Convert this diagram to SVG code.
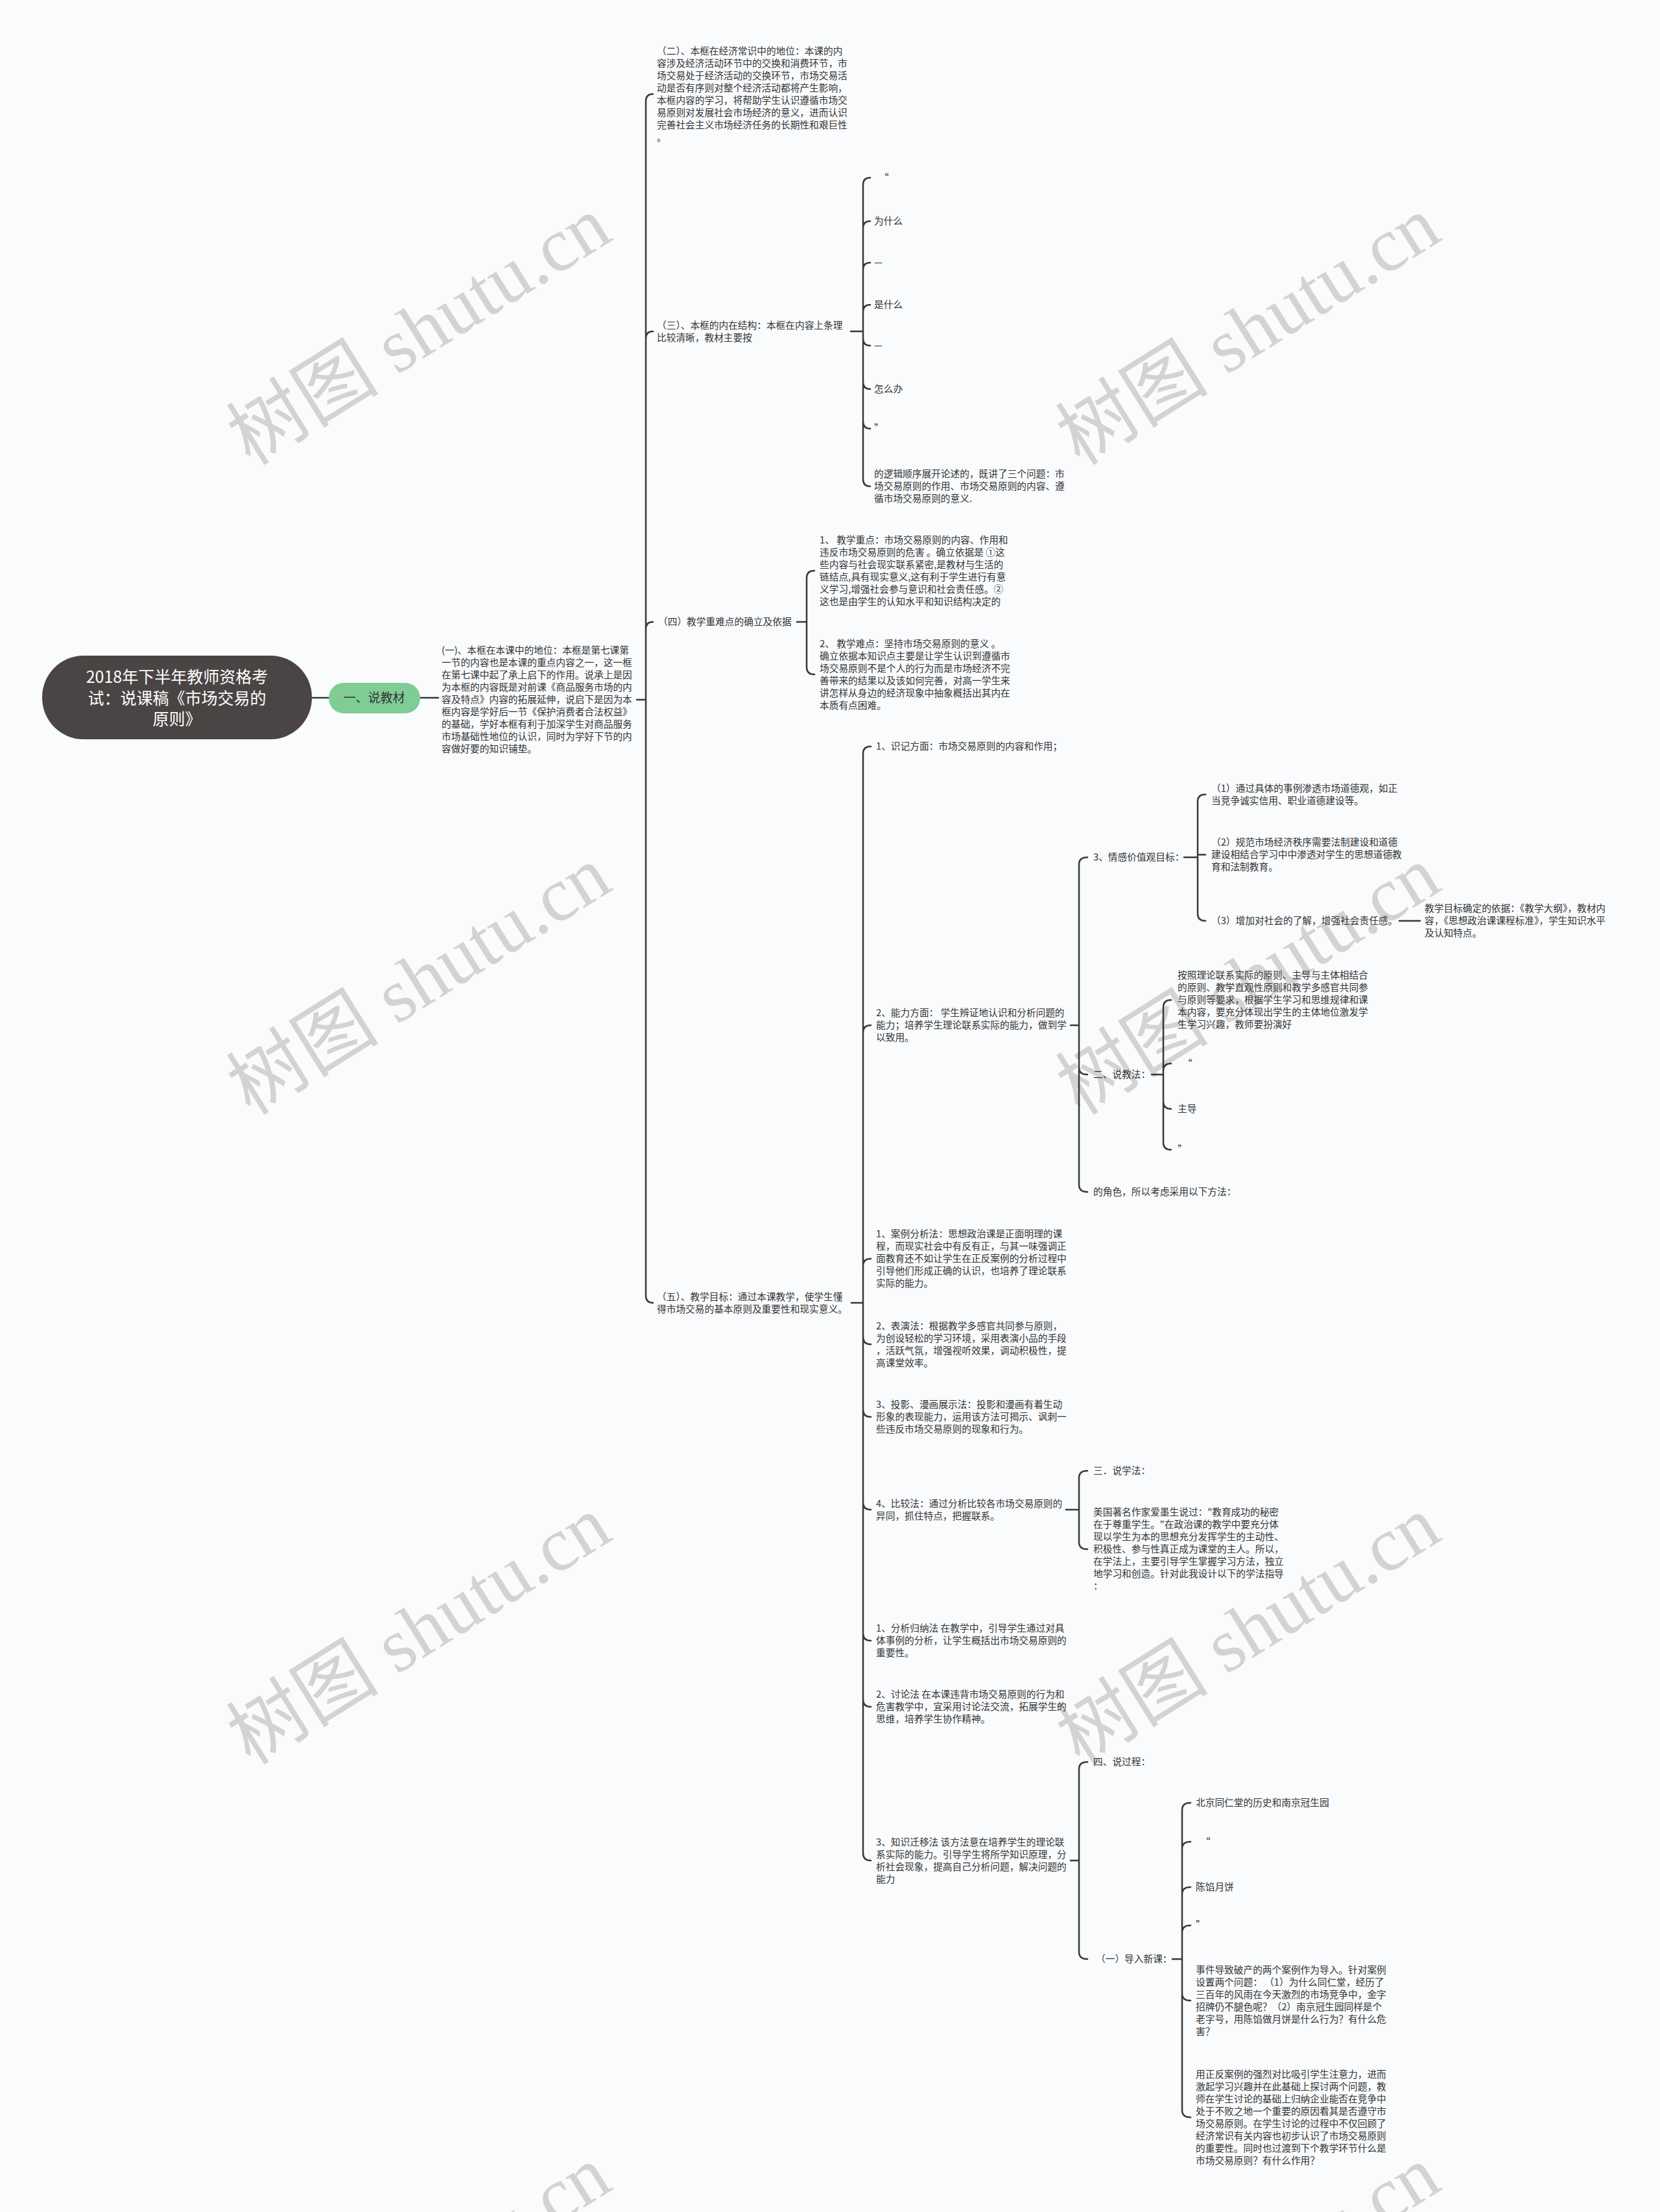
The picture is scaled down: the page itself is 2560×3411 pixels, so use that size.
<svg xmlns="http://www.w3.org/2000/svg" width="2560" height="3411" viewBox="0 0 2560 3411">
<style>
.bg{fill:#f9fbfd}
.wm{font-family:"Liberation Serif","Noto Sans CJK SC",serif;font-size:118px;fill:#d3d3d3;text-anchor:middle}
.t{font-family:"Noto Sans CJK SC","Noto Sans",sans-serif;font-size:14.7px;fill:#333}
.root{font-family:"Noto Sans CJK SC","Noto Sans",sans-serif;font-size:25px;fill:#ffffff;text-anchor:middle}
.l1{font-family:"Noto Sans CJK SC","Noto Sans",sans-serif;font-size:19px;fill:#333;text-anchor:middle}
.c{fill:none;stroke:#383838;stroke-width:2.5;stroke-linecap:round}
</style>
<rect class="bg" x="0" y="0" width="2560" height="3411"/>
<g id="watermarks">
<g transform="translate(646,510) rotate(-32)"><text class="wm" x="0" y="40">树图 shutu.cn</text></g>
<g transform="translate(1925,510) rotate(-32)"><text class="wm" x="0" y="40">树图 shutu.cn</text></g>
<g transform="translate(646,1512) rotate(-32)"><text class="wm" x="0" y="40">树图 shutu.cn</text></g>
<g transform="translate(1925,1512) rotate(-32)"><text class="wm" x="0" y="40">树图 shutu.cn</text></g>
<g transform="translate(646,2514) rotate(-32)"><text class="wm" x="0" y="40">树图 shutu.cn</text></g>
<g transform="translate(1925,2514) rotate(-32)"><text class="wm" x="0" y="40">树图 shutu.cn</text></g>
<g transform="translate(646,3516) rotate(-32)"><text class="wm" x="0" y="40">树图 shutu.cn</text></g>
<g transform="translate(1925,3516) rotate(-32)"><text class="wm" x="0" y="40">树图 shutu.cn</text></g>
</g>
<g id="connectors">
<path class="c" d="M481,1076 H507"/>
<path class="c" d="M648,1076 H676"/>
<path class="c" d="M982,1079 H996 M996,156 V1998 M996,156 Q996,145 1007,145 M996,522 Q996,511 1007,511 M996,970 Q996,959 1007,959 M996,1998 Q996,2009 1007,2009"/>
<path class="c" d="M1312,511 H1331 M1331,285 V739 M1331,285 Q1331,274 1342,274 M1331,352 Q1331,341 1342,341 M1331,416 Q1331,405 1342,405 M1331,481 Q1331,470 1342,470 M1331,522 Q1331,533 1342,533 M1331,589 Q1331,600 1342,600 M1331,650 Q1331,661 1342,661 M1331,739 Q1331,750 1342,750"/>
<path class="c" d="M1229,959 H1244 M1244,891 V1029 M1244,891 Q1244,880 1256,880 M1244,1029 Q1244,1040 1256,1040"/>
<path class="c" d="M1313,2009 H1331 M1331,1162 V2858 M1331,1162 Q1331,1151 1343,1151 M1331,1592 Q1331,1581 1343,1581 M1331,1952 Q1331,1941 1343,1941 M1331,2062 Q1331,2073 1343,2073 M1331,2174 Q1331,2185 1343,2185 M1331,2317 Q1331,2328 1343,2328 M1331,2519 Q1331,2530 1343,2530 M1331,2621 Q1331,2632 1343,2632 M1331,2858 Q1331,2869 1343,2869"/>
<path class="c" d="M1651,1581 H1664 M1664,1333 V1827 M1664,1333 Q1664,1322 1677,1322 M1664,1646 Q1664,1657 1677,1657 M1664,1827 Q1664,1838 1677,1838"/>
<path class="c" d="M1826,1322 H1847 M1847,1236 V1409 M1847,1236 Q1847,1225 1859,1225 M1847,1318 H1859 M1847,1409 Q1847,1420 1859,1420"/>
<path class="c" d="M2158,1420 H2190"/>
<path class="c" d="M1776,1657 H1794 M1794,1553 V1762 M1794,1553 Q1794,1542 1806,1542 M1794,1651 Q1794,1640 1806,1640 M1794,1699 Q1794,1710 1806,1710 M1794,1762 Q1794,1773 1806,1773"/>
<path class="c" d="M1644,2328 H1664 M1664,2279 V2378 M1664,2279 Q1664,2268 1677,2268 M1664,2378 Q1664,2389 1677,2389"/>
<path class="c" d="M1651,2869 H1664 M1664,2728 V3010 M1664,2728 Q1664,2717 1677,2717 M1664,3010 Q1664,3021 1677,3021"/>
<path class="c" d="M1808,3021 H1823 M1823,2791 V3254 M1823,2791 Q1823,2780 1836,2780 M1823,2851 Q1823,2840 1836,2840 M1823,2921 Q1823,2910 1836,2910 M1823,2980 Q1823,2969 1836,2969 M1823,3074 Q1823,3085 1836,3085 M1823,3254 Q1823,3265 1836,3265"/>
</g>
<g id="root">
<rect x="65" y="1011" width="416" height="129" rx="64" ry="64" fill="#4a4544"/>
<text class="root"><tspan x="273" y="1053">2018年下半年教师资格考</tspan><tspan x="273" y="1086">试：说课稿《市场交易的</tspan><tspan x="273" y="1118">原则》</tspan></text>
</g>
<g id="n-shuojiaocai">
<rect x="507" y="1053" width="141" height="47" rx="23" ry="23" fill="#80cc95"/>
<text class="l1" x="577" y="1083">一、说教材</text>
</g>
<g id="n-1">
<text class="t"><tspan x="681" y="1008">(一)、本框在本课中的地位：本框是第七课第</tspan><tspan x="681" dy="19">一节的内容也是本课的重点内容之一，这一框</tspan><tspan x="681" dy="19">在第七课中起了承上启下的作用。说承上是因</tspan><tspan x="681" dy="19">为本框的内容既是对前课《商品服务市场的内</tspan><tspan x="681" dy="19">容及特点》内容的拓展延伸，说启下是因为本</tspan><tspan x="681" dy="19">框内容是学好后一节《保护消费者合法权益》</tspan><tspan x="681" dy="19">的基础，学好本框有利于加深学生对商品服务</tspan><tspan x="681" dy="19">市场基础性地位的认识，同时为学好下节的内</tspan><tspan x="681" dy="19">容做好要的知识铺垫。</tspan></text>
</g>
<g id="n-2">
<text class="t"><tspan x="1013" y="83.5">（二）、本框在经济常识中的地位：本课的内</tspan><tspan x="1013" dy="19">容涉及经济活动环节中的交换和消费环节，市</tspan><tspan x="1013" dy="19">场交易处于经济活动的交换环节，市场交易活</tspan><tspan x="1013" dy="19">动是否有序则对整个经济活动都将产生影响，</tspan><tspan x="1013" dy="19">本框内容的学习，将帮助学生认识遵循市场交</tspan><tspan x="1013" dy="19">易原则对发展社会市场经济的意义，进而认识</tspan><tspan x="1013" dy="19">完善社会主义市场经济任务的长期性和艰巨性</tspan><tspan x="1013" dy="19">。</tspan></text>
</g>
<g id="n-3">
<text class="t"><tspan x="1013" y="506.5">（三）、本框的内在结构：本框在内容上条理</tspan><tspan x="1013" dy="19">比较清晰，教材主要按</tspan></text>
</g>
<g id="n-3-1"><text class="t" x="1356" y="279">“</text></g>
<g id="n-3-2"><text class="t" x="1348" y="346">为什么</text></g>
<g id="n-3-3"><text class="t" x="1348" y="410">—</text></g>
<g id="n-3-4"><text class="t" x="1348" y="475">是什么</text></g>
<g id="n-3-5"><text class="t" x="1348" y="538">—</text></g>
<g id="n-3-6"><text class="t" x="1348" y="605">怎么办</text></g>
<g id="n-3-7"><text class="t" x="1348" y="666">”</text></g>
<g id="n-3-8">
<text class="t"><tspan x="1348" y="736">的逻辑顺序展开论述的，既讲了三个问题：市</tspan><tspan x="1348" dy="19">场交易原则的作用、市场交易原则的内容、遵</tspan><tspan x="1348" dy="19">循市场交易原则的意义.</tspan></text>
</g>
<g id="n-4"><text class="t" x="1015" y="964">（四）教学重难点的确立及依据</text></g>
<g id="n-4-1">
<text class="t"><tspan x="1264" y="837.5">1、 教学重点：市场交易原则的内容、作用和</tspan><tspan x="1264" dy="19">违反市场交易原则的危害 。确立依据是 ①这</tspan><tspan x="1264" dy="19">些内容与社会现实联系紧密,是教材与生活的</tspan><tspan x="1264" dy="19">链结点,具有现实意义,这有利于学生进行有意</tspan><tspan x="1264" dy="19">义学习,增强社会参与意识和社会责任感。②</tspan><tspan x="1264" dy="19">这也是由学生的认知水平和知识结构决定的</tspan></text>
</g>
<g id="n-4-2">
<text class="t"><tspan x="1264" y="997.5">2、 教学难点：坚持市场交易原则的意义 。</tspan><tspan x="1264" dy="19">确立依据本知识点主要是让学生认识到遵循市</tspan><tspan x="1264" dy="19">场交易原则不是个人的行为而是市场经济不完</tspan><tspan x="1264" dy="19">善带来的结果以及该如何完善，对高一学生来</tspan><tspan x="1264" dy="19">讲怎样从身边的经济现象中抽象概括出其内在</tspan><tspan x="1264" dy="19">本质有点困难。</tspan></text>
</g>
<g id="n-5">
<text class="t"><tspan x="1013" y="2004.5">（五）、教学目标：通过本课教学，使学生懂</tspan><tspan x="1013" dy="19">得市场交易的基本原则及重要性和现实意义。</tspan></text>
</g>
<g id="n-5-1"><text class="t" x="1351" y="1156">1、识记方面：市场交易原则的内容和作用；</text></g>
<g id="n-5-2">
<text class="t"><tspan x="1351" y="1567">2、能力方面： 学生辨证地认识和分析问题的</tspan><tspan x="1351" dy="19">能力；培养学生理论联系实际的能力，做到学</tspan><tspan x="1351" dy="19">以致用。</tspan></text>
</g>
<g id="n-5-2-1"><text class="t" x="1686" y="1327">3、情感价值观目标：</text></g>
<g id="n-5-2-1-1">
<text class="t"><tspan x="1868" y="1220.5">（1）通过具体的事例渗透市场道德观，如正</tspan><tspan x="1868" dy="19">当竞争诚实信用、职业道德建设等。</tspan></text>
</g>
<g id="n-5-2-1-2">
<text class="t"><tspan x="1868" y="1304">（2）规范市场经济秩序需要法制建设和道德</tspan><tspan x="1868" dy="19">建设相结合学习中中渗透对学生的思想道德教</tspan><tspan x="1868" dy="19">育和法制教育。</tspan></text>
</g>
<g id="n-5-2-1-3"><text class="t" x="1868" y="1425">（3）增加对社会的了解，增强社会责任感。</text></g>
<g id="n-5-2-1-3-1">
<text class="t"><tspan x="2197" y="1406">教学目标确定的依据：《教学大纲》，教材内</tspan><tspan x="2197" dy="19">容，《思想政治课课程标准》，学生知识水平</tspan><tspan x="2197" dy="19">及认知特点。</tspan></text>
</g>
<g id="n-5-2-2"><text class="t" x="1686" y="1662">二、说教法：</text></g>
<g id="n-5-2-2-1">
<text class="t"><tspan x="1816" y="1509">按照理论联系实际的原则、主导与主体相结合</tspan><tspan x="1816" dy="19">的原则、教学直观性原则和教学多感官共同参</tspan><tspan x="1816" dy="19">与原则等要求，根据学生学习和思维规律和课</tspan><tspan x="1816" dy="19">本内容，要充分体现出学生的主体地位激发学</tspan><tspan x="1816" dy="19">生学习兴趣，教师要扮演好</tspan></text>
</g>
<g id="n-5-2-2-2"><text class="t" x="1824" y="1645">“</text></g>
<g id="n-5-2-2-3"><text class="t" x="1816" y="1715">主导</text></g>
<g id="n-5-2-2-4"><text class="t" x="1816" y="1778">”</text></g>
<g id="n-5-2-3"><text class="t" x="1686" y="1843">的角色，所以考虑采用以下方法：</text></g>
<g id="n-5-3">
<text class="t"><tspan x="1351" y="1908">1、案例分析法：思想政治课是正面明理的课</tspan><tspan x="1351" dy="19">程，而现实社会中有反有正，与其一味强调正</tspan><tspan x="1351" dy="19">面教育还不如让学生在正反案例的分析过程中</tspan><tspan x="1351" dy="19">引导他们形成正确的认识，也培养了理论联系</tspan><tspan x="1351" dy="19">实际的能力。</tspan></text>
</g>
<g id="n-5-4">
<text class="t"><tspan x="1351" y="2049.5">2、表演法：根据教学多感官共同参与原则，</tspan><tspan x="1351" dy="19">为创设轻松的学习环境，采用表演小品的手段</tspan><tspan x="1351" dy="19">，活跃气氛，增强视听效果，调动积极性，提</tspan><tspan x="1351" dy="19">高课堂效率。</tspan></text>
</g>
<g id="n-5-5">
<text class="t"><tspan x="1351" y="2171">3、投影、漫画展示法：投影和漫画有着生动</tspan><tspan x="1351" dy="19">形象的表现能力，运用该方法可揭示、讽刺一</tspan><tspan x="1351" dy="19">些违反市场交易原则的现象和行为。</tspan></text>
</g>
<g id="n-5-6">
<text class="t"><tspan x="1351" y="2323.5">4、比较法：通过分析比较各市场交易原则的</tspan><tspan x="1351" dy="19">异同，抓住特点，把握联系。</tspan></text>
</g>
<g id="n-5-6-1"><text class="t" x="1686" y="2273">三．说学法：</text></g>
<g id="n-5-6-2">
<text class="t"><tspan x="1686" y="2337">美国著名作家爱墨生说过："教育成功的秘密</tspan><tspan x="1686" dy="19">在于尊重学生。"在政治课的教学中要充分体</tspan><tspan x="1686" dy="19">现以学生为本的思想充分发挥学生的主动性、</tspan><tspan x="1686" dy="19">积极性、参与性真正成为课堂的主人。所以，</tspan><tspan x="1686" dy="19">在学法上，主要引导学生掌握学习方法，独立</tspan><tspan x="1686" dy="19">地学习和创造。针对此我设计以下的学法指导</tspan><tspan x="1686" dy="19">：</tspan></text>
</g>
<g id="n-5-7">
<text class="t"><tspan x="1351" y="2516">1、分析归纳法 在教学中，引导学生通过对具</tspan><tspan x="1351" dy="19">体事例的分析，让学生概括出市场交易原则的</tspan><tspan x="1351" dy="19">重要性。</tspan></text>
</g>
<g id="n-5-8">
<text class="t"><tspan x="1351" y="2618">2、讨论法 在本课违背市场交易原则的行为和</tspan><tspan x="1351" dy="19">危害教学中，宜采用讨论法交流，拓展学生的</tspan><tspan x="1351" dy="19">思维，培养学生协作精神。</tspan></text>
</g>
<g id="n-5-9">
<text class="t"><tspan x="1351" y="2845.5">3、知识迁移法 该方法意在培养学生的理论联</tspan><tspan x="1351" dy="19">系实际的能力。引导学生将所学知识原理，分</tspan><tspan x="1351" dy="19">析社会现象，提高自己分析问题，解决问题的</tspan><tspan x="1351" dy="19">能力</tspan></text>
</g>
<g id="n-5-9-1"><text class="t" x="1686" y="2722">四、说过程：</text></g>
<g id="n-5-9-2"><text class="t" x="1690" y="3026">（一）导入新课：</text></g>
<g id="n-5-9-2-1"><text class="t" x="1844" y="2785">北京同仁堂的历史和南京冠生园</text></g>
<g id="n-5-9-2-2"><text class="t" x="1852" y="2845">“</text></g>
<g id="n-5-9-2-3"><text class="t" x="1844" y="2915">陈馅月饼</text></g>
<g id="n-5-9-2-4"><text class="t" x="1844" y="2974">”</text></g>
<g id="n-5-9-2-5">
<text class="t"><tspan x="1844" y="3042.5">事件导致破产的两个案例作为导入。针对案例</tspan><tspan x="1844" dy="19">设置两个问题： （1）为什么同仁堂，经历了</tspan><tspan x="1844" dy="19">三百年的风雨在今天激烈的市场竞争中，金字</tspan><tspan x="1844" dy="19">招牌仍不腿色呢？（2）南京冠生园同样是个</tspan><tspan x="1844" dy="19">老字号，用陈馅做月饼是什么行为？有什么危</tspan><tspan x="1844" dy="19">害？</tspan></text>
</g>
<g id="n-5-9-2-6">
<text class="t"><tspan x="1844" y="3203.5">用正反案例的强烈对比吸引学生注意力，进而</tspan><tspan x="1844" dy="19">激起学习兴趣并在此基础上探讨两个问题，教</tspan><tspan x="1844" dy="19">师在学生讨论的基础上归纳企业能否在竞争中</tspan><tspan x="1844" dy="19">处于不败之地一个重要的原因看其是否遵守市</tspan><tspan x="1844" dy="19">场交易原则。在学生讨论的过程中不仅回顾了</tspan><tspan x="1844" dy="19">经济常识有关内容也初步认识了市场交易原则</tspan><tspan x="1844" dy="19">的重要性。同时也过渡到下个教学环节什么是</tspan><tspan x="1844" dy="19">市场交易原则？有什么作用？</tspan></text>
</g>
</svg>
